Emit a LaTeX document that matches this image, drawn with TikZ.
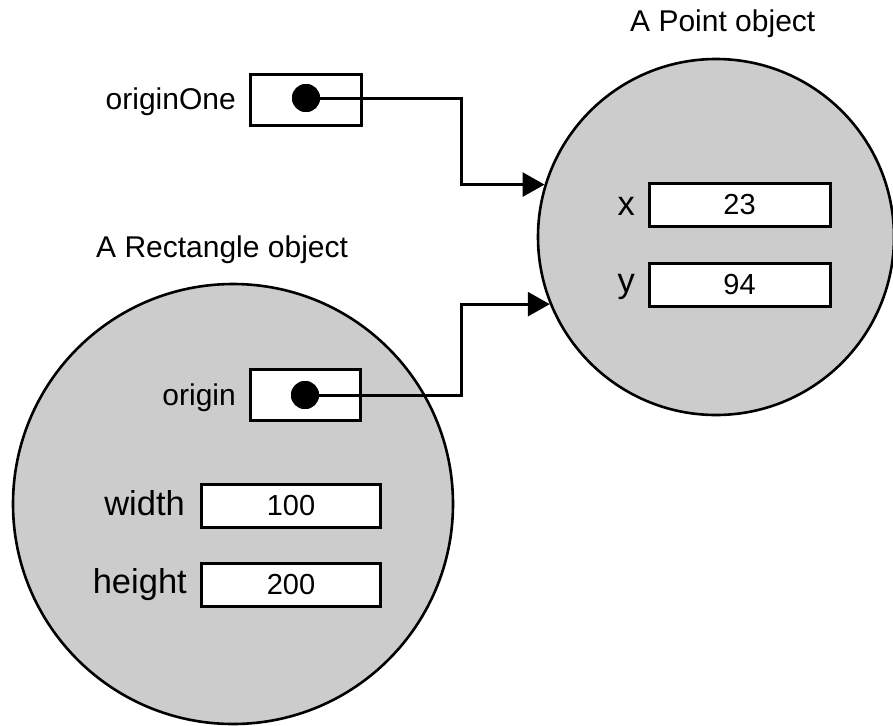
\documentclass[tikz,border=0pt]{standalone}
\usepackage{fontspec}
\setmainfont{Liberation Sans}
\usetikzlibrary{arrows.meta}
\definecolor{objgray}{HTML}{CCCCCC}
\begin{document}
\begin{tikzpicture}[x=1pt,y=-1pt,
  obj/.style={circle,draw,line width=2.6pt,fill=objgray,inner sep=0pt,minimum size=#1},
  field/.style={draw,line width=3pt,fill=white,inner sep=0pt,minimum width=#1,minimum height=43pt,font=\fontsize{29}{34}\selectfont},
  lbl/.style={inner sep=0pt,anchor=base east,font=\fontsize{30}{36}\selectfont},
  biglbl/.style={inner sep=0pt,anchor=base east,font=\fontsize{34.5}{40}\selectfont},
  title/.style={inner sep=0pt,anchor=base west,font=\fontsize{30}{36}\selectfont},
  dot/.style={circle,fill=black,inner sep=0pt,minimum size=28pt},
  ptr/.style={line width=3pt,-{Triangle[length=22pt,width=24pt]}}]
\useasboundingbox (0,0) rectangle (893,725);

% objects
\node[obj=356pt] (pt) at (716,237) {};
\node[obj=440pt] (rc) at (233,504) {};

% titles
\node[title] (ptt) at (630,32) {A Point object};
\node[title] (rct) at (96,257) {A Rectangle object};

% originOne variable
\node[field=111pt,minimum height=51pt] (v1) at (306,100) {};
\node[lbl] (v1l) at (236,109) {originOne};
\node[dot] (d1) at (306,98) {};

% Point fields
\node[field=181pt] (fx) at (739.5,205) {23};
\node[biglbl] (fxl) at (635,215) {x};
\node[field=181pt] (fy) at (739.5,284.5) {94};
\node[biglbl] (fyl) at (635,292) {y};

% Rectangle fields
\node[field=110pt,minimum height=51pt] (v2) at (305.5,395) {};
\node[lbl] (v2l) at (236,405) {origin};
\node[dot] (d2) at (305,395) {};
\node[field=179pt] (fw) at (291,505.5) {100};
\node[biglbl] (fwl) at (185,515) {width};
\node[field=179pt] (fh) at (291,585) {200};
\node[biglbl] (fhl) at (187,593) {height};

% connectors
\coordinate (b1) at (461,140);
\coordinate (b2) at (461,350);
\draw[ptr] (d1.center) -| (b1) |- (pt.163.35);
\draw[ptr] (d2.center) -| (b2) |- (pt.202.8);
\node[dot] at (d1) {};
\node[dot] at (d2) {};
\end{tikzpicture}
\end{document}
